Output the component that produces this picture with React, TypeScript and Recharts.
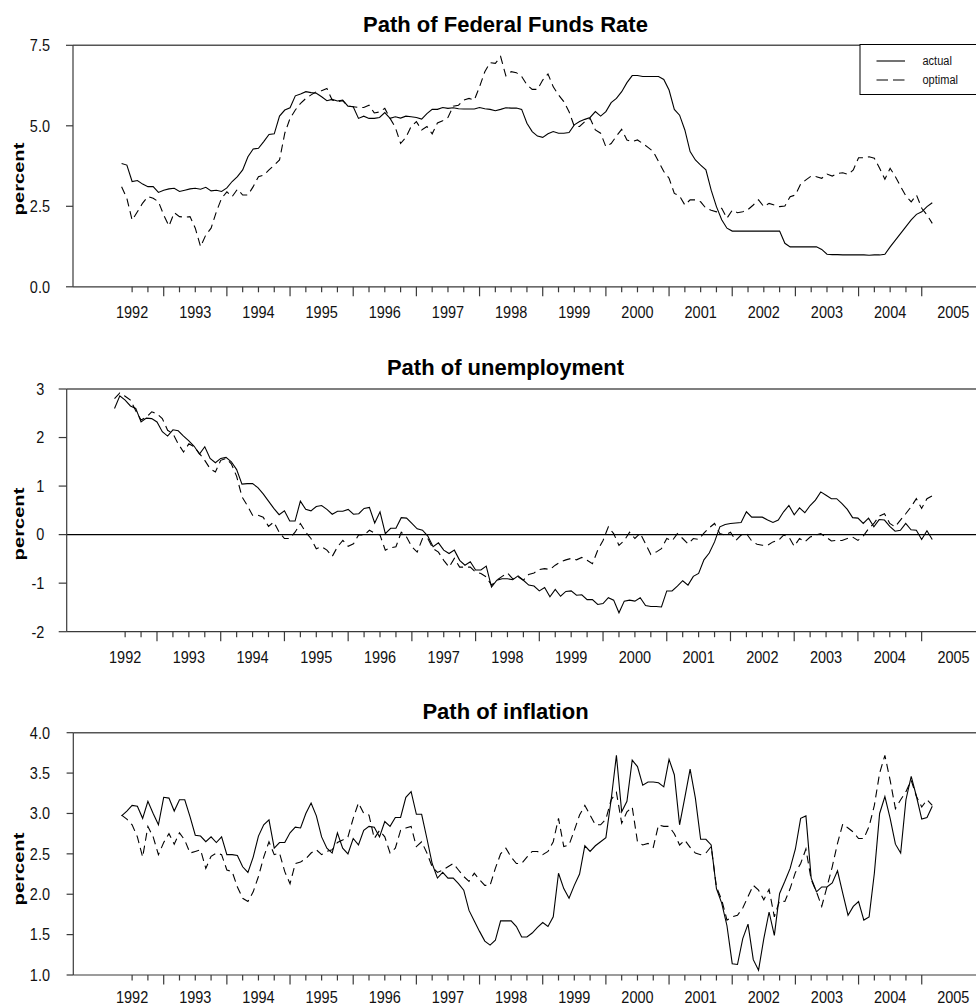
import { LineChart, Line, XAxis, YAxis, ReferenceLine } from 'recharts'

// monthly, May 1992 .. Mar 2005
const START_YEAR = 1992
const START_MONTH = 5

const yearLabels = ['1992', '1993', '1994', '1995', '1996', '1997', '1998', '1999', '2000', '2001', '2002', '2003', '2004', '2005']

const fedActual = [
  3.83, 3.78, 3.27, 3.3, 3.19, 3.11, 3.11, 2.93, 3.0, 3.04, 3.06, 2.96, 3.0, 3.04, 3.06, 3.03, 3.09, 2.98, 3.0, 2.96,
  3.07, 3.27, 3.42, 3.63, 4.04, 4.28, 4.3, 4.51, 4.73, 4.75, 5.3, 5.49, 5.56, 5.93, 5.99, 6.06, 6.03, 6.01, 5.9, 5.78,
  5.82, 5.77, 5.8, 5.61, 5.59, 5.23, 5.3, 5.23, 5.23, 5.26, 5.41, 5.23, 5.28, 5.24, 5.3, 5.28, 5.26, 5.21, 5.38, 5.51,
  5.51, 5.57, 5.54, 5.56, 5.53, 5.52, 5.52, 5.52, 5.57, 5.53, 5.51, 5.47, 5.51, 5.56, 5.55, 5.55, 5.51, 5.08, 4.82, 4.68,
  4.64, 4.75, 4.82, 4.77, 4.77, 4.79, 5.03, 5.13, 5.2, 5.26, 5.44, 5.3, 5.44, 5.72, 5.85, 6.06, 6.34, 6.56, 6.56, 6.53,
  6.53, 6.53, 6.53, 6.44, 6.11, 5.51, 5.33, 4.87, 4.2, 3.94, 3.78, 3.63, 3.0, 2.49, 2.08, 1.82, 1.73, 1.73, 1.73, 1.73,
  1.73, 1.73, 1.73, 1.73, 1.73, 1.73, 1.35, 1.24, 1.24, 1.24, 1.24, 1.24, 1.24, 1.16, 1.01, 1.0, 1.0, 0.99, 0.99, 0.99,
  0.99, 0.99, 0.98, 0.99, 0.99, 1.01, 1.24, 1.45, 1.66, 1.87, 2.08, 2.25, 2.33, 2.49, 2.61,
]

const fedOptimal = [
  3.11, 2.75, 2.07, 2.33, 2.6, 2.8, 2.75, 2.64, 2.23, 1.89, 2.3, 2.18, 2.16, 2.18, 1.82, 1.25, 1.61, 1.82, 2.33, 2.75,
  2.95, 2.8, 3.03, 2.85, 2.85, 3.11, 3.42, 3.47, 3.63, 3.78, 3.94, 4.77, 5.23, 5.49, 5.7, 5.85, 5.96, 6.06, 6.09, 6.16,
  5.8, 5.75, 5.78, 5.61, 5.59, 5.57, 5.57, 5.64, 5.4, 5.43, 5.54, 5.23, 4.95, 4.45, 4.64, 4.98, 5.13, 4.87, 4.98, 4.75,
  5.09, 5.16, 5.26, 5.61, 5.64, 5.8, 5.85, 5.8, 6.21, 6.68, 6.96, 6.94, 7.15, 6.55, 6.68, 6.65, 6.53, 6.27, 6.13, 6.13,
  6.42, 6.61, 6.21, 5.96, 5.75, 5.44, 4.98, 4.98, 5.13, 5.23, 4.87, 4.77, 4.35, 4.45, 4.68, 4.89, 4.56, 4.51, 4.56, 4.45,
  4.33, 4.2, 3.89, 3.58, 3.37, 2.9, 2.82, 2.54, 2.7, 2.7, 2.64, 2.44, 2.38, 2.33, 2.44, 2.13, 2.38, 2.3, 2.33, 2.4,
  2.54, 2.7, 2.49, 2.59, 2.54, 2.49, 2.51, 2.8, 2.85, 3.19, 3.32, 3.44, 3.42, 3.37, 3.5, 3.44, 3.52, 3.54, 3.49, 3.63,
  4.01, 4.01, 4.04, 3.99, 3.68, 3.34, 3.68, 3.42, 3.11, 2.82, 2.64, 2.85, 2.44, 2.23, 1.97,
]

const unempActual = [
  2.6, 2.86, 2.77, 2.65, 2.6, 2.32, 2.4, 2.39, 2.32, 2.12, 2.03, 2.16, 2.14, 2.03, 1.93, 1.82, 1.66, 1.81, 1.57, 1.48,
  1.57, 1.59, 1.5, 1.34, 1.04, 1.05, 1.05, 0.97, 0.84, 0.69, 0.54, 0.41, 0.49, 0.28, 0.28, 0.69, 0.52, 0.49, 0.58, 0.6,
  0.52, 0.42, 0.48, 0.48, 0.52, 0.42, 0.43, 0.54, 0.56, 0.24, 0.47, 0.02, 0.13, 0.13, 0.35, 0.34, 0.23, 0.12, 0.09, -0.03,
  -0.25, -0.17, -0.32, -0.39, -0.32, -0.53, -0.63, -0.56, -0.73, -0.73, -0.65, -1.08, -0.94, -0.91, -0.91, -0.93, -0.85, -0.94, -1.04, -1.06,
  -1.16, -1.09, -1.28, -1.13, -1.27, -1.17, -1.16, -1.25, -1.24, -1.34, -1.34, -1.44, -1.42, -1.3, -1.35, -1.61, -1.37, -1.35, -1.37, -1.3,
  -1.46, -1.48, -1.48, -1.49, -1.16, -1.16, -1.06, -0.95, -1.04, -0.86, -0.8, -0.52, -0.38, -0.15, 0.16, 0.21, 0.23, 0.24, 0.25, 0.47,
  0.36, 0.36, 0.36, 0.3, 0.25, 0.3, 0.47, 0.6, 0.41, 0.55, 0.45, 0.6, 0.71, 0.88, 0.81, 0.74, 0.74, 0.64, 0.52, 0.35,
  0.34, 0.23, 0.34, 0.16, 0.31, 0.3, 0.17, 0.07, 0.09, 0.23, 0.1, 0.09, -0.1, 0.08, -0.1,
]

const unempOptimal = [
  2.8, 2.92, 2.85, 2.77, 2.55, 2.36, 2.42, 2.53, 2.49, 2.39, 2.15, 2.08, 1.87, 1.7, 1.87, 1.81, 1.67, 1.53, 1.36, 1.29,
  1.53, 1.57, 1.46, 1.2, 0.78, 0.6, 0.4, 0.4, 0.36, 0.17, 0.26, 0.05, -0.08, -0.08, 0.05, 0.23, 0.05, -0.08, -0.29, -0.25,
  -0.32, -0.45, -0.25, -0.12, -0.24, -0.19, 0.0, -0.01, 0.09, 0.03, -0.01, -0.32, -0.27, -0.25, 0.05, -0.05, -0.25, -0.36, -0.08, -0.08,
  -0.29, -0.36, -0.53, -0.67, -0.49, -0.67, -0.67, -0.67, -0.77, -0.8, -0.87, -1.04, -0.94, -0.86, -0.79, -0.91, -0.87, -0.94, -0.82, -0.79,
  -0.72, -0.7, -0.72, -0.63, -0.56, -0.52, -0.49, -0.52, -0.47, -0.53, -0.6, -0.32, -0.12, 0.16, 0.02, -0.22, -0.12, 0.05, -0.08, 0.03,
  -0.19, -0.41, -0.36, -0.29, -0.08, -0.13, 0.02, -0.08, -0.19, -0.08, -0.1, 0.03, 0.14, 0.23, 0.02, -0.01, 0.05, -0.12, -0.01, 0.02,
  -0.13, -0.2, -0.22, -0.22, -0.15, -0.12, -0.01, -0.05, -0.24, -0.08, -0.15, -0.05, -0.01, 0.02, -0.05, -0.13, -0.12, -0.12, -0.08, -0.05,
  -0.12, -0.03, 0.12, 0.23, 0.38, 0.43, 0.23, 0.16, 0.3, 0.43, 0.57, 0.74, 0.54, 0.74, 0.8,
]

const inflActual = [
  2.97, 3.03, 3.1, 3.09, 2.94, 3.15, 3.0, 2.86, 3.2, 3.19, 3.03, 3.17, 3.17, 2.96, 2.73, 2.72, 2.65, 2.71, 2.64, 2.71,
  2.49, 2.49, 2.48, 2.34, 2.27, 2.46, 2.72, 2.86, 2.92, 2.57, 2.64, 2.64, 2.76, 2.83, 2.82, 3.0, 3.13, 2.97, 2.71, 2.57,
  2.51, 2.76, 2.57, 2.5, 2.69, 2.61, 2.79, 2.84, 2.83, 2.71, 2.9, 2.84, 2.95, 2.95, 3.2, 3.27, 2.99, 2.99, 2.69, 2.38,
  2.2, 2.27, 2.2, 2.2, 2.13, 2.05, 1.8, 1.67, 1.54, 1.42, 1.37, 1.43, 1.67, 1.67, 1.67, 1.6, 1.47, 1.47, 1.52, 1.59,
  1.65, 1.6, 1.72, 2.26, 2.07, 1.95, 2.11, 2.25, 2.6, 2.53, 2.6, 2.65, 2.7, 3.17, 3.72, 3.02, 3.15, 3.66, 3.58, 3.35,
  3.39, 3.39, 3.38, 3.33, 3.67, 3.48, 2.86, 3.2, 3.55, 3.19, 2.68, 2.68, 2.61, 2.07, 1.89, 1.61, 1.14, 1.13, 1.45, 1.63,
  1.19, 1.06, 1.45, 1.78, 1.49, 2.01, 2.16, 2.32, 2.56, 2.94, 2.97, 2.2, 2.03, 2.09, 2.09, 2.14, 2.29, 2.01, 1.74, 1.85,
  1.91, 1.68, 1.72, 2.26, 3.0, 3.21, 2.94, 2.62, 2.51, 3.17, 3.46, 3.21, 2.93, 2.95, 3.09,
]

const inflOptimal = [
  2.98, 2.93, 2.86, 2.71, 2.46, 2.84, 2.71, 2.49, 2.64, 2.75, 2.62, 2.76, 2.67, 2.51, 2.53, 2.55, 2.32, 2.47, 2.51, 2.49,
  2.3, 2.28, 2.09, 1.95, 1.91, 2.03, 2.22, 2.46, 2.65, 2.49, 2.51, 2.28, 2.13, 2.38, 2.4, 2.44, 2.51, 2.55, 2.49, 2.53,
  2.55, 2.64, 2.67, 2.71, 2.94, 3.13, 3.0, 2.98, 2.69, 2.79, 2.71, 2.51, 2.57, 2.79, 2.82, 2.84, 2.59, 2.65, 2.51, 2.34,
  2.27, 2.3, 2.34, 2.38, 2.3, 2.22, 2.16, 2.26, 2.18, 2.11, 2.11, 2.32, 2.5, 2.57, 2.46, 2.38, 2.38, 2.46, 2.53, 2.53,
  2.49, 2.53, 2.65, 2.94, 2.59, 2.61, 2.79, 2.98, 3.1, 2.98, 2.86, 2.86, 2.93, 3.17, 3.26, 2.88, 3.02, 3.08, 2.65, 2.61,
  2.63, 2.58, 2.86, 2.84, 2.84, 2.75, 2.61, 2.67, 2.58, 2.51, 2.49, 2.51, 2.59, 2.09, 1.93, 1.68, 1.72, 1.74, 1.83, 1.97,
  2.11, 2.05, 1.93, 2.06, 1.72, 1.92, 1.91, 2.07, 2.27, 2.38, 2.56, 2.18, 2.03, 1.85, 2.09, 2.34, 2.63, 2.87, 2.82, 2.77,
  2.69, 2.69, 2.84, 3.1, 3.5, 3.72, 3.41, 3.06, 3.17, 3.27, 3.41, 3.21, 3.08, 3.17, 3.1,
]

const FONT = '"Liberation Sans", Arial, Helvetica, sans-serif'
const AXIS = '#3a3a3a'
const W = 976

function toRows(actual: number[], optimal: number[]) {
  return actual.map((v, i) => ({
    t: START_YEAR + (START_MONTH - 1 + i) / 12,
    actual: v,
    optimal: optimal[i],
  }))
}

// quarter ticks from mid-1992 to 2005, plus a label slot for 2005
const firstYear = Number(yearLabels[0])
const lastYear = Number(yearLabels[yearLabels.length - 1])
const xTicks: number[] = []
for (let q = firstYear * 4 + 2; q <= lastYear * 4; q++) xTicks.push(q / 4)
xTicks.push(lastYear + 0.5)

const makeXTick = (labelDy: number) => (props: any) => {
  const { x, y, payload } = props
  const v: number = payload.value
  const isYear = Math.abs(v - Math.round(v)) < 1e-6
  const isMid = Math.abs(v - Math.floor(v) - 0.5) < 1e-6
  const hasLine = v <= lastYear + 1e-6
  return (
    <g>
      {hasLine && (
        <line x1={x} x2={x} y1={y} y2={y + (isYear ? 9.5 : 5.5)} stroke={AXIS} strokeWidth={1.2} />
      )}
      {isMid && (
        <text
          transform={`translate(${x},${y + labelDy}) scale(1,1.12)`}
          textAnchor="middle"
          dominantBaseline="central"
          fontSize={14.5}
          fontFamily={FONT}
          fill="#111"
        >
          {String(Math.floor(v))}
        </text>
      )}
    </g>
  )
}

const makeYTick = (len: number, gap: number, fmt: (v: number) => string) => (props: any) => {
  const { x, y, payload } = props
  return (
    <g>
      <line x1={x - len} x2={x} y1={y} y2={y} stroke={AXIS} strokeWidth={1.2} />
      <text
        transform={`translate(${x - gap},${y}) scale(1,1.12)`}
        textAnchor="end"
        dominantBaseline="central"
        fontSize={14.5}
        fontFamily={FONT}
        fill="#111"
      >
        {fmt(payload.value)}
      </text>
    </g>
  )
}

type PanelProps = {
  rows: { t: number; actual: number; optimal: number }[]
  height: number
  plotTop: number
  plotBottom: number
  plotLeft: number
  xAxisH: number
  labelDy: number
  xDomain: [number, number]
  yDomain: [number, number]
  yTicks: number[]
  fmt: (v: number) => string
  tickLen: number
  gap: number
  zero?: boolean
}

function Panel(p: PanelProps) {
  const yAxisW = 50
  return (
    <LineChart
      width={W}
      height={p.height}
      data={p.rows}
      margin={{
        top: p.plotTop,
        right: 0,
        left: p.plotLeft - yAxisW,
        bottom: p.height - p.plotBottom - p.xAxisH,
      }}
    >
      <XAxis
        dataKey="t"
        type="number"
        domain={p.xDomain}
        allowDataOverflow
        ticks={xTicks}
        interval={0}
        tickSize={0}
        tickMargin={0}
        height={p.xAxisH}
        tickLine={false}
        axisLine={{ stroke: AXIS, strokeWidth: 1.2 }}
        tick={makeXTick(p.labelDy)}
      />
      <YAxis
        type="number"
        domain={p.yDomain}
        allowDataOverflow
        ticks={p.yTicks}
        interval={0}
        width={yAxisW}
        tickSize={0}
        tickMargin={0}
        tickLine={false}
        axisLine={{ stroke: AXIS, strokeWidth: 1.2 }}
        tick={makeYTick(p.tickLen, p.gap, p.fmt)}
      />
      <ReferenceLine y={p.yDomain[1]} stroke="#555" strokeWidth={1.5} />
      {p.zero && <ReferenceLine y={0} stroke="#000" strokeWidth={1.1} />}
      <Line
        type="linear"
        dataKey="optimal"
        stroke="#000"
        strokeWidth={1.1}
        strokeDasharray="8 5"
        dot={false}
        activeDot={false}
        isAnimationActive={false}
      />
      <Line
        type="linear"
        dataKey="actual"
        stroke="#000"
        strokeWidth={1.1}
        dot={false}
        activeDot={false}
        isAnimationActive={false}
      />
    </LineChart>
  )
}

const titles = [
  { text: 'Path of Federal Funds Rate', y: 31.7 },
  { text: 'Path of unemployment', y: 375 },
  { text: 'Path of inflation', y: 719.3 },
]
const percentY = [179, 524, 869]

export default function App() {
  return (
    <div
      style={{
        position: 'absolute',
        left: 0,
        top: 0,
        width: W,
        height: 1007,
        overflow: 'hidden',
        background: '#fff',
        fontFamily: FONT,
      }}
    >
      <div style={{ position: 'absolute', left: 0, top: 0 }}>
        <Panel
          rows={toRows(fedActual, fedOptimal)}
          height={344}
          plotTop={45.3}
          plotBottom={286.8}
          plotLeft={73}
          xAxisH={40}
          labelDy={25.5}
          xDomain={[1991.564, 2005.859]}
          yDomain={[0, 7.5]}
          yTicks={[0, 2.5, 5, 7.5]}
          fmt={(v) => v.toFixed(1)}
          tickLen={7}
          gap={23}
        />
      </div>
      <div style={{ position: 'absolute', left: 0, top: 344 }}>
        <Panel
          rows={toRows(unempActual, unempOptimal)}
          height={344}
          plotTop={45}
          plotBottom={287.7}
          plotLeft={66.7}
          xAxisH={40}
          labelDy={25}
          xDomain={[1991.583, 2005.853]}
          yDomain={[-2, 3]}
          yTicks={[-2, -1, 0, 1, 2, 3]}
          fmt={(v) => String(v)}
          tickLen={8}
          gap={22.4}
          zero
        />
      </div>
      <div style={{ position: 'absolute', left: 0, top: 688 }}>
        <Panel
          rows={toRows(inflActual, inflOptimal)}
          height={319}
          plotTop={44.7}
          plotBottom={287}
          plotLeft={73.3}
          xAxisH={30}
          labelDy={22.5}
          xDomain={[1991.569, 2005.859]}
          yDomain={[1, 4]}
          yTicks={[1, 1.5, 2, 2.5, 3, 3.5, 4]}
          fmt={(v) => v.toFixed(1)}
          tickLen={6.7}
          gap={23.3}
        />
      </div>
      <svg
        width={W}
        height={1007}
        style={{ position: 'absolute', left: 0, top: 0, pointerEvents: 'none' }}
        fontFamily={FONT}
      >
        {titles.map((t) => (
          <text key={t.text} x={505.5} y={t.y} textAnchor="middle" fontSize={22} fontWeight="bold" fill="#000">
            {t.text}
          </text>
        ))}
        {percentY.map((y) => (
          <text
            key={y}
            transform={`translate(19,${y}) rotate(-90) scale(1.3,1)`}
            textAnchor="middle"
            dominantBaseline="central"
            fontSize={15.5}
            fontWeight="bold"
            fill="#000"
          >
            percent
          </text>
        ))}
        <g>
          <rect x={860} y={44.5} width={130} height={50} fill="#fff" stroke="#000" strokeWidth={1} />
          <line x1={876.5} x2={905} y1={61} y2={61} stroke="#000" strokeWidth={1.1} />
          <line x1={876.5} x2={905} y1={80} y2={80} stroke="#000" strokeWidth={1.1} strokeDasharray="11.5 5" />
          <text transform="translate(922.5,61) scale(1,1.15)" dominantBaseline="central" fontSize={11} fill="#111">
            actual
          </text>
          <text transform="translate(922.5,80) scale(1,1.15)" dominantBaseline="central" fontSize={11} fill="#111">
            optimal
          </text>
        </g>
      </svg>
    </div>
  )
}
